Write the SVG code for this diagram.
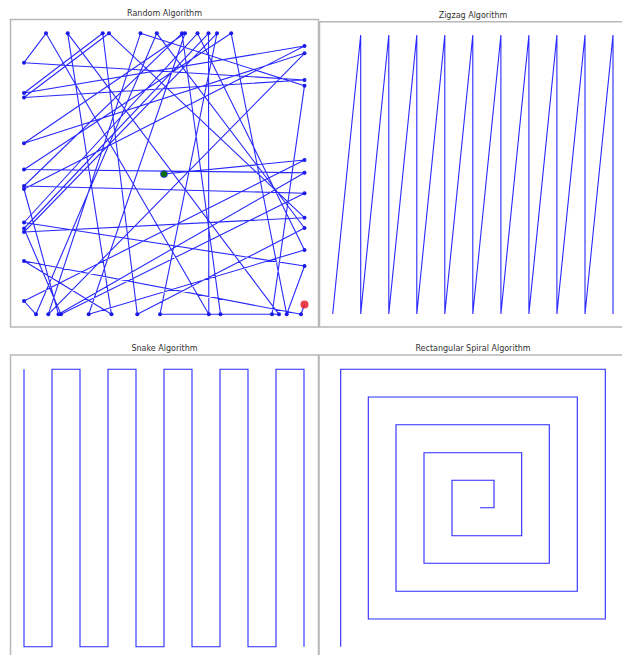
<svg xmlns="http://www.w3.org/2000/svg" width="622" height="655" viewBox="0 0 622 655">
<style>
.frame{fill:none;stroke:#b8b8b8;stroke-width:1.5}
.ln{fill:none;stroke:#2a2aff;stroke-width:1.1;stroke-linejoin:miter}
.title{font-family:"DejaVu Sans",sans-serif;font-size:8px;fill:#333;text-anchor:middle}
.pt{fill:#1a1ae6}
</style>
<rect width="622" height="655" fill="#ffffff"/>
<g id="panel-random">
<rect class="frame" x="10.5" y="19.5" width="308" height="307.5"/>
<text class="title" x="164.5" y="15.5">Random Algorithm</text>
<g id="random-connectors">
<path class="ln" d="M46,33.3L24,62.7 M24,62.7L304.5,80 M304.5,80L24,97.5 M24,97.5L109,33.3 M102.7,33.3L24,93 M208.5,33.3L208.8,314.3 M46,33.3L208.8,314.3 M67.7,33.3L111.5,314.3 M67.7,33.3L279,314.3 M140.5,33.3L304.5,85.7 M24,301L36,314.3 M24,261L301,314.3 M301,314.3L304.5,304.5 M164,174L304.5,160 M24,301L304.5,160 M36,314.3L156.8,33.3 M102.7,33.3L137.3,314.3 M109,33.3L304.5,217.7 M140.5,33.3L48.3,314.3 M156.8,33.3L304.5,228 M182,33.3L24,186 M182,33.3L220.5,314.3 M185,33.3L24,143.3 M185,33.3L88.7,314.3 M197.5,33.3L24,222.5 M197.5,33.3L304.5,250 M208.5,33.3L24,228.5 M217,33.3L160,314.3 M217,33.3L24,232 M231.2,33.3L24,169.5 M231.2,33.3L286.7,314.3 M24,93L304.5,46 M24,143.3L304.5,53.3 M24,169.5L304.5,172.7 M24,186L304.5,193.2 M24,189L304.5,46 M24,189L58.5,314.3 M24,222.5L304.5,266 M24,228.5L61,314.3 M24,232L304.5,217.7 M304.5,53.3L48.3,314.3 M304.5,85.7L272,314.3 M304.5,172.7L58.5,314.3 M304.5,193.2L61,314.3 M304.5,228L137.3,314.3 M304.5,250L88.7,314.3 M304.5,266L286.7,314.3 M111.5,314.3L24,261 M160,314.3L279,314.3 M220.5,314.3L272,314.3"/>
</g>
<g id="random-points" class="pt">
<circle cx="46" cy="33.3" r="2"/><circle cx="67.7" cy="33.3" r="2"/><circle cx="102.7" cy="33.3" r="2"/><circle cx="109" cy="33.3" r="2"/><circle cx="140.5" cy="33.3" r="2"/><circle cx="156.8" cy="33.3" r="2"/><circle cx="182" cy="33.3" r="2"/><circle cx="185" cy="33.3" r="2"/><circle cx="197.5" cy="33.3" r="2"/><circle cx="208.5" cy="33.3" r="2"/><circle cx="217" cy="33.3" r="2"/><circle cx="231.2" cy="33.3" r="2"/>
<circle cx="24" cy="62.7" r="2"/><circle cx="24" cy="93" r="2"/><circle cx="24" cy="97.5" r="2"/><circle cx="24" cy="143.3" r="2"/><circle cx="24" cy="169.5" r="2"/><circle cx="24" cy="186" r="2"/><circle cx="24" cy="189" r="2"/><circle cx="24" cy="222.5" r="2"/><circle cx="24" cy="228.5" r="2"/><circle cx="24" cy="232" r="2"/><circle cx="24" cy="261" r="2"/><circle cx="24" cy="301" r="2"/>
<circle cx="304.5" cy="46" r="2"/><circle cx="304.5" cy="53.3" r="2"/><circle cx="304.5" cy="80" r="2"/><circle cx="304.5" cy="85.7" r="2"/><circle cx="304.5" cy="160" r="2"/><circle cx="304.5" cy="172.7" r="2"/><circle cx="304.5" cy="193.2" r="2"/><circle cx="304.5" cy="217.7" r="2"/><circle cx="304.5" cy="228" r="2"/><circle cx="304.5" cy="250" r="2"/><circle cx="304.5" cy="266" r="2"/>
<circle cx="36" cy="314.3" r="2"/><circle cx="48.3" cy="314.3" r="2"/><circle cx="58.5" cy="314.3" r="2"/><circle cx="61" cy="314.3" r="2"/><circle cx="88.7" cy="314.3" r="2"/><circle cx="111.5" cy="314.3" r="2"/><circle cx="137.3" cy="314.3" r="2"/><circle cx="160" cy="314.3" r="2"/><circle cx="208.8" cy="314.3" r="2"/><circle cx="220.5" cy="314.3" r="2"/><circle cx="272" cy="314.3" r="2"/><circle cx="279" cy="314.3" r="2"/><circle cx="286.7" cy="314.3" r="2"/><circle cx="301" cy="314.3" r="2"/>
</g>
<circle id="random-start" cx="164" cy="174" r="3.5" fill="#0a6e0a" stroke="#2a2aff" stroke-width="0.8"/>
<circle id="random-end" cx="304.5" cy="304.5" r="4" fill="#e8202a" fill-opacity="0.85"/>
</g>
<g id="panel-zigzag">
<path class="frame" d="M319.5,21.7 H623 M319.5,21.7 V327 H623"/>
<text class="title" x="473" y="17.8">Zigzag Algorithm</text>
<path class="ln" d="M332.7,314 L360.7,35 L360.7,314 L388.8,35 L388.8,314 L416.8,35 L416.8,314 L444.8,35 L444.8,314 L472.8,35 L472.8,314 L500.9,35 L500.9,314 L528.9,35 L528.9,314 L556.9,35 L556.9,314 L585,35 L585,314 L613,35 L613,314"/>
</g>
<g id="panel-snake">
<path class="frame" d="M10.5,656 V355 H318.5 V656"/>
<text class="title" x="164.5" y="350.5">Snake Algorithm</text>
<path class="ln" d="M24,369.3 V646.7 H52 V369.3 H80 V646.7 H108 V369.3 H136 V646.7 H164 V369.3 H192 V646.7 H220 V369.3 H248 V646.7 H276 V369.3 H304 V646.7"/>
</g>
<g id="panel-spiral">
<path class="frame" d="M319,656 V355 H623"/>
<text class="title" x="473" y="350.5">Rectangular Spiral Algorithm</text>
<path class="ln" d="M340.7,646.7 V369.3 H605.3 V619 H368.3 V397 H577.3 V591.3 H396 V424.7 H549.3 V563.3 H424 V452.7 H521.7 V535.7 H452 V480.3 H494 V507.7 H480"/>
</g>
</svg>
